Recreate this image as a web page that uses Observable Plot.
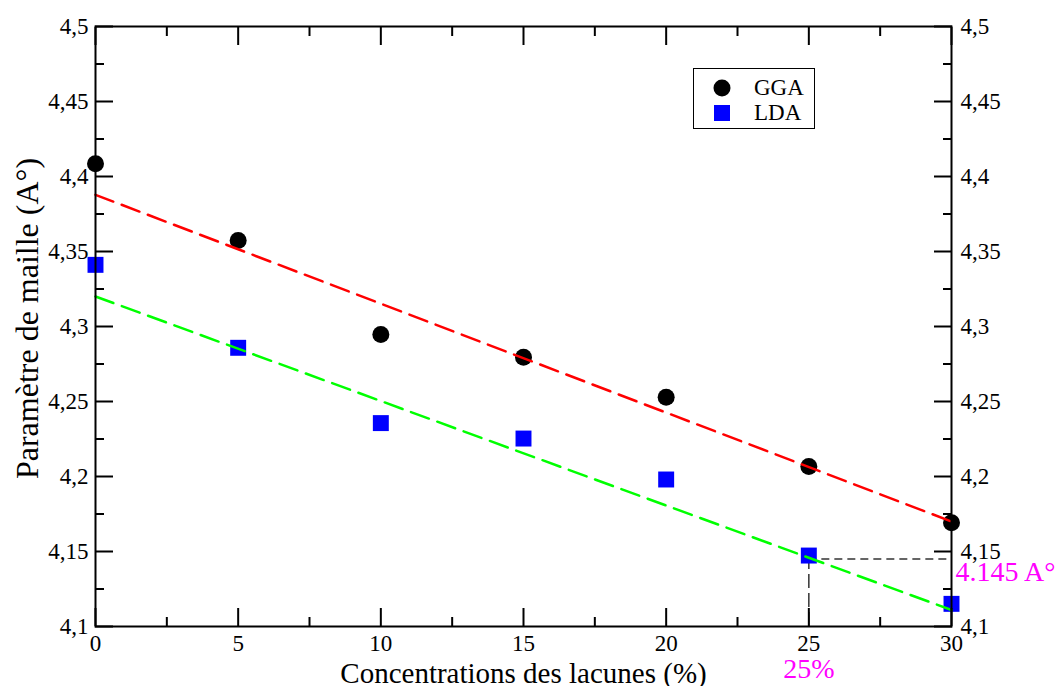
<!DOCTYPE html>
<html><head><meta charset="utf-8">
<script src="https://cdn.jsdelivr.net/npm/d3@7"></script>
<script src="https://cdn.jsdelivr.net/npm/@observablehq/plot@0.6"></script>
<style>
body{margin:0;background:#fff;}
#wrap{position:relative;width:1062px;height:686px;overflow:hidden;}
#wrap svg text{font-family:"Liberation Serif", serif;}
#legend{position:absolute;left:693px;top:68px;width:120px;height:59px;border:1.5px solid #000;background:#fff;font-family:"Liberation Serif";font-size:23px;color:#000;}
#legend .row{position:absolute;left:0;height:24px;line-height:24px;}
#legend .sym{position:absolute;left:18px;}
#legend .lab{position:absolute;left:60px;top:0;white-space:nowrap;}
</style></head><body><div id="wrap"></div>
<script>
// ---- data ----
const concentrations = [0, 5, 10, 15, 20, 25, 30];
const ggaValues = [4.4085, 4.3573, 4.2947, 4.2795, 4.2529, 4.2067, 4.1691];
const ldaValues = [4.3411, 4.2858, 4.2356, 4.2253, 4.198, 4.1473, 4.1151];
const fitX = [0, 30];
const ggaFitY = [4.3878, 4.170];
const ldaFitY = [4.320, 4.111];
const xTicks = [0, 5, 10, 15, 20, 25, 30];
const xTickLabels = ["0", "5", "10", "15", "20", "25", "30"];
const xMinorTicks = [2.5, 7.5, 12.5, 17.5, 22.5, 27.5];
const yTicks = [4.1, 4.15, 4.2, 4.25, 4.3, 4.35, 4.4, 4.45, 4.5];
const yTickLabels = ["4,1", "4,15", "4,2", "4,25", "4,3", "4,35", "4,4", "4,45", "4,5"];
const yMinorTicks = [4.125, 4.175, 4.225, 4.275, 4.325, 4.375, 4.425, 4.475];
const annotX = [25];
const annotY = [4.145];
const annotValueLabel = ["4.145 A°"];
const annotXLabel = ["25%"];
const xTitle = ["Concentrations des lacunes (%)"];
const yTitle = ["Paramètre de maille (A°)"];
const seriesNames = ["GGA", "LDA"];

const gga = concentrations.map((c, i) => ({c, v: ggaValues[i]}));
const lda = concentrations.map((c, i) => ({c, v: ldaValues[i]}));
const ggaFit = fitX.map((x, i) => ({x, y: ggaFitY[i]}));
const ldaFit = fitX.map((x, i) => ({x, y: ldaFitY[i]}));
const xLab = d => xTickLabels[xTicks.indexOf(d)];
const yLab = d => yTickLabels[yTicks.findIndex(t => Math.abs(t - d) < 1e-9)];
const blank = () => "";
const FF = "Liberation Serif";

const chart = Plot.plot({
  width: 1062, height: 686,
  marginLeft: 95, marginRight: 111, marginTop: 26, marginBottom: 60,
  x: {domain: [0, 30]},
  y: {domain: [4.1, 4.5]},
  style: {fontFamily: FF, fontSize: "23px", color: "#000", background: "#fff", overflow: "visible"},
  marks: [
    // annotation dashed guides
    Plot.ruleY(annotY, {x1: annotX[0], x2: 30, stroke: "#333", strokeWidth: 1.5, strokeDasharray: "8,5"}),
    Plot.ruleX(annotX, {y1: 4.1, y2: annotY[0], stroke: "#333", strokeWidth: 1.5, strokeDasharray: "14,5"}),
    // data
    Plot.dot(gga, {x: "c", y: "v", r: 8.5, fill: "#000", symbol: "circle"}),
    Plot.dot(lda, {x: "c", y: "v", r: 9, fill: "#0000ff", symbol: "square"}),
    Plot.line(ggaFit, {x: "x", y: "y", stroke: "#ff0000", strokeWidth: 2.5, strokeDasharray: "19,9"}),
    Plot.line(ldaFit, {x: "x", y: "y", stroke: "#00ff00", strokeWidth: 2.5, strokeDasharray: "19,9"}),
    // frame & axes
    Plot.frame({stroke: "#000", strokeWidth: 2}),
    Plot.axisX(xTicks, {anchor: "bottom", tickSize: 0, tickPadding: 8, tickFormat: xLab, label: null, fontFamily: FF, fontSize: 23}),
    Plot.axisX(xTicks, {anchor: "bottom", tickSize: -18, strokeWidth: 2, tickFormat: blank, label: null}),
    Plot.axisX(xMinorTicks, {anchor: "bottom", tickSize: -9, strokeWidth: 2, tickFormat: blank, label: null}),
    Plot.axisX(xTicks, {anchor: "top", tickSize: -18, strokeWidth: 2, tickFormat: blank, label: null}),
    Plot.axisX(xMinorTicks, {anchor: "top", tickSize: -9, strokeWidth: 2, tickFormat: blank, label: null}),
    Plot.axisY(yTicks, {anchor: "left", tickSize: 0, tickPadding: 7, tickFormat: yLab, label: null, fontFamily: FF, fontSize: 23}),
    Plot.axisY(yTicks, {anchor: "left", tickSize: -18, strokeWidth: 2, tickFormat: blank, label: null}),
    Plot.axisY(yMinorTicks, {anchor: "left", tickSize: -9, strokeWidth: 2, tickFormat: blank, label: null}),
    Plot.axisY(yTicks, {anchor: "right", tickSize: 0, tickPadding: 9, tickFormat: yLab, label: null, fontFamily: FF, fontSize: 23}),
    Plot.axisY(yTicks, {anchor: "right", tickSize: -18, strokeWidth: 2, tickFormat: blank, label: null}),
    Plot.axisY(yMinorTicks, {anchor: "right", tickSize: -9, strokeWidth: 2, tickFormat: blank, label: null}),
    // titles
    Plot.text(xTitle, {frameAnchor: "bottom", dy: 56, lineAnchor: "bottom", textAnchor: "middle", fontSize: 29, fontFamily: FF, fill: "#000"}),
    Plot.text(yTitle, {frameAnchor: "left", dx: -68, dy: -8, rotate: -90, textAnchor: "middle", lineAnchor: "middle", fontSize: 32, fontFamily: FF, fill: "#000"}),
    // magenta annotations
    Plot.text(annotValueLabel, {x: 30, y: annotY[0], textAnchor: "start", dx: 4, dy: 13, fontSize: 28, fontFamily: FF, fill: "#ff00ff"}),
    Plot.text(annotXLabel, {x: annotX[0], frameAnchor: "bottom", dy: 51, lineAnchor: "bottom", textAnchor: "middle", fontSize: 28, fontFamily: FF, fill: "#ff00ff"})
  ]
});
const wrap = document.getElementById("wrap");
wrap.appendChild(chart);

// legend
const leg = document.createElement("div");
leg.id = "legend";
const syms = [
  '<svg width="20" height="20" style="display:block"><circle cx="10" cy="10" r="8.5" fill="#000"/></svg>',
  '<svg width="20" height="20" style="display:block"><rect x="2" y="2" width="16" height="16" fill="#0000ff"/></svg>'
];
seriesNames.forEach((name, i) => {
  const row = document.createElement("div");
  row.className = "row";
  row.style.top = (7 + i * 25) + "px";
  row.innerHTML = `<div class="sym" style="top:2px">${syms[i]}</div><div class="lab">${name}</div>`;
  leg.appendChild(row);
});
wrap.appendChild(leg);
</script>
</body></html>
